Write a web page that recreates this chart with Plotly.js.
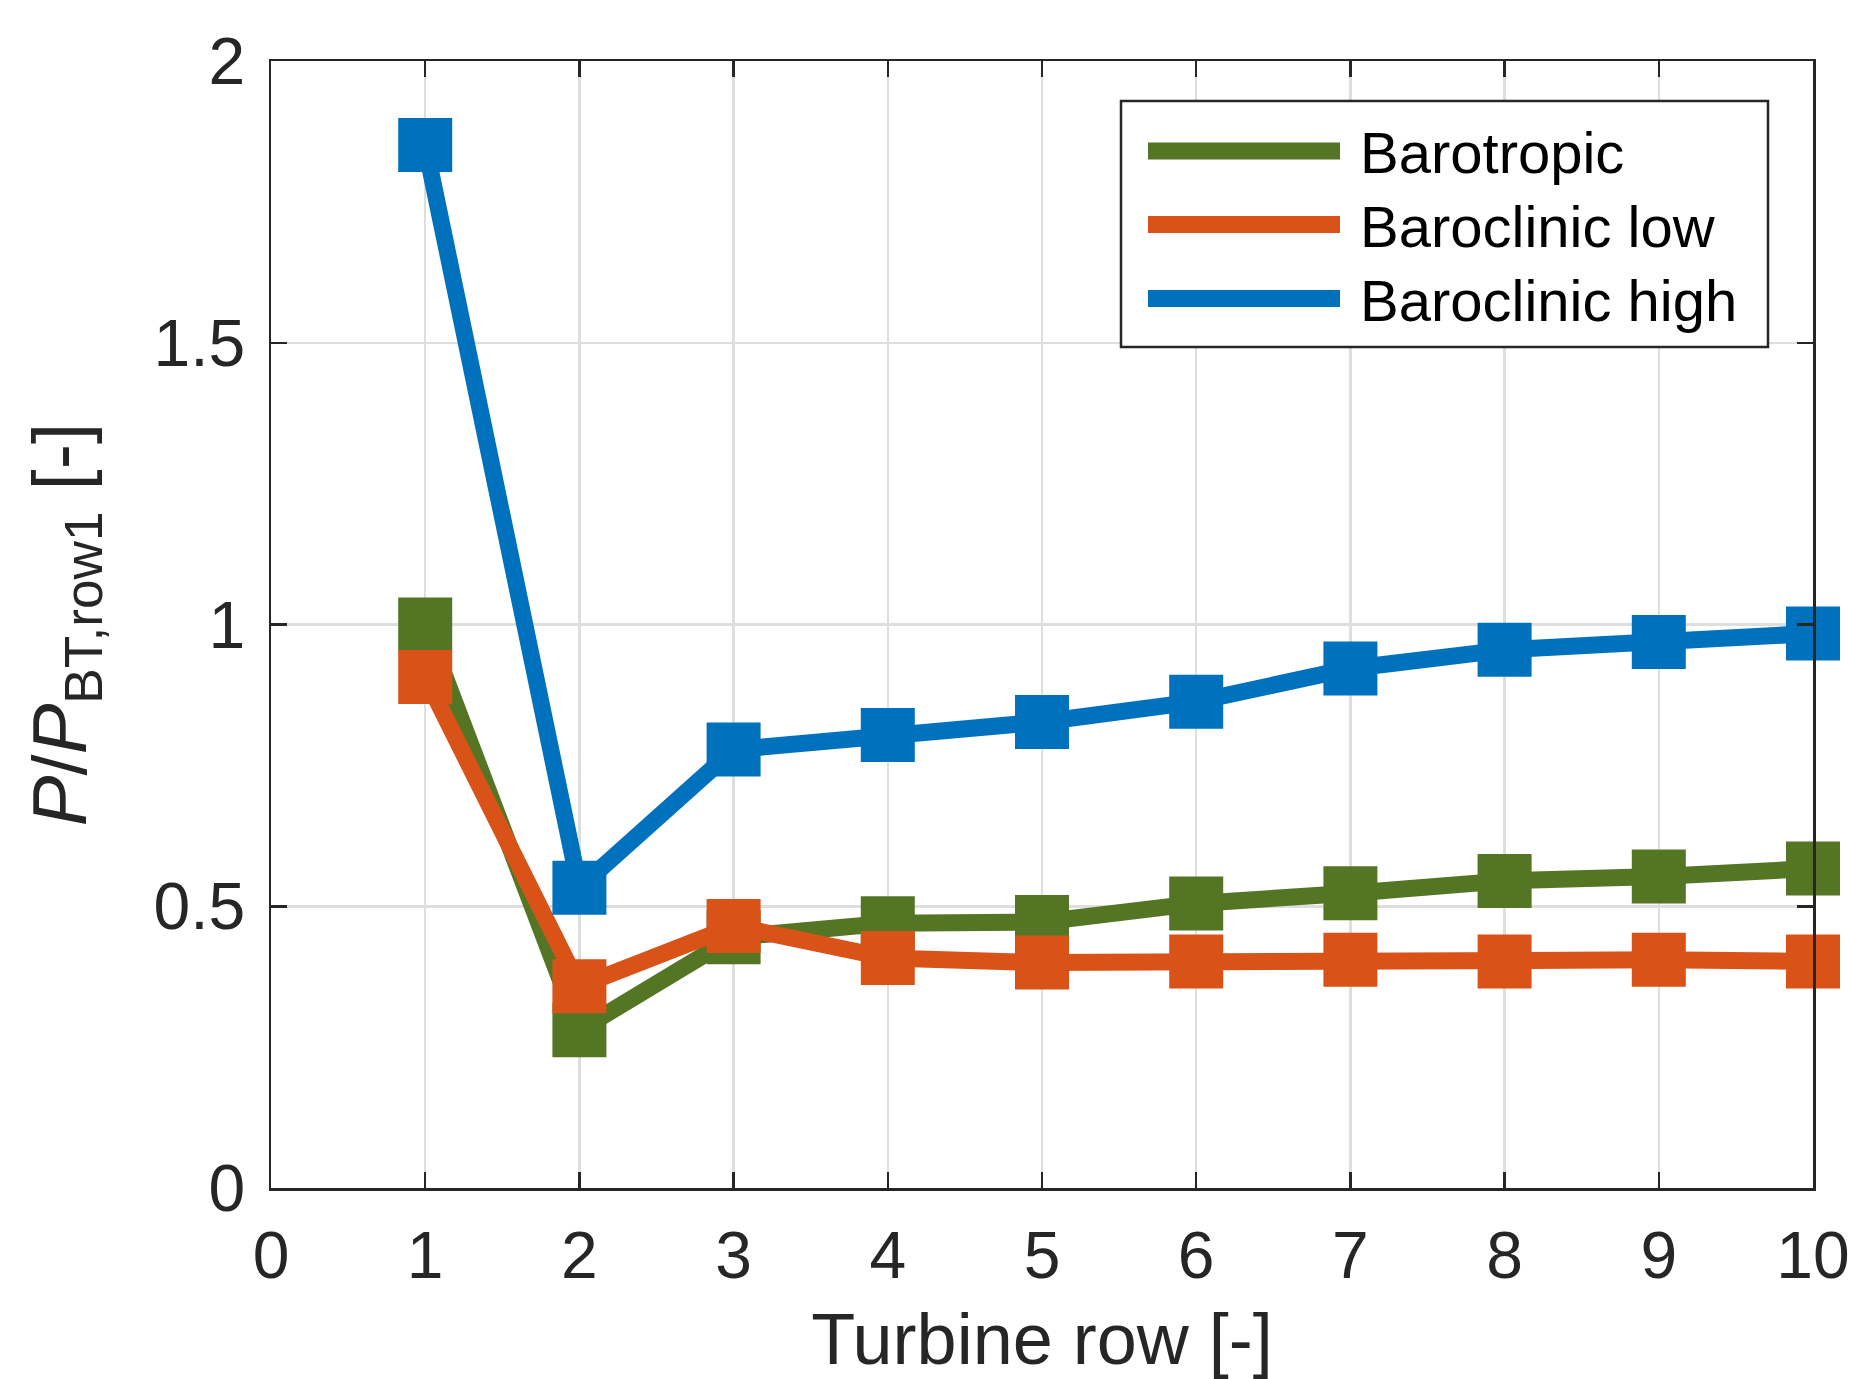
<!DOCTYPE html>
<html>
<head>
<meta charset="utf-8">
<script src="https://cdn.plot.ly/plotly-3.0.1.min.js"></script>
<style>
  html, body { margin: 0; padding: 0; background: #ffffff; }
  #chart { width: 1851px; height: 1379px; }
</style>
</head>
<body>
<div id="chart"></div>
<script>
// ---- Data ----
const turbineRow = [1, 2, 3, 4, 5, 6, 7, 8, 9, 10];
const seriesNames = ["Barotropic", "Baroclinic low", "Baroclinic high"];
const barotropic = [1.00, 0.28, 0.445, 0.47, 0.472, 0.505, 0.523, 0.545, 0.553, 0.567];
const baroclinicLow = [0.907, 0.358, 0.465, 0.408, 0.400, 0.402, 0.405, 0.402, 0.405, 0.402];
const baroclinicHigh = [1.851, 0.533, 0.778, 0.804, 0.827, 0.863, 0.922, 0.955, 0.969, 0.984];
const xTicks = [0, 1, 2, 3, 4, 5, 6, 7, 8, 9, 10];
const yTicks = [0, 0.5, 1, 1.5, 2];
const yTickText = ["0", "0.5", "1", "1.5", "2"];

const colors = ["#547624", "#D95319", "#0072BD"];
const seriesValues = [barotropic, baroclinicLow, baroclinicHigh];

// ---- Layout geometry (pixels) ----
const W = 1851, H = 1379;
const M = { l: 271, r: 38, t: 61, b: 191 };
const PW = W - M.l - M.r, PH = H - M.t - M.b;
const px2x = p => (p - M.l) / PW;
const px2y = p => (H - M.b - p) / PH;

const FONT = "Liberation Sans, Arial, Helvetica, sans-serif";
const INK = "#262626";

const traces = seriesValues.map((vals, i) => ({
  type: "scatter",
  mode: "lines+markers",
  name: seriesNames[i],
  x: turbineRow,
  y: vals,
  cliponaxis: false,
  line: { color: colors[i], width: 17 },
  marker: { symbol: "square", size: 54, color: colors[i], line: { width: 0 } },
  showlegend: false
}));

// custom legend (box, line samples and labels)
const legBox = { x0: 1121, x1: 1768, y0: 101, y1: 347 };
const rowsY = [151, 224.5, 298.5];
const shapes = [{
  type: "rect", xref: "paper", yref: "paper",
  x0: px2x(legBox.x0), x1: px2x(legBox.x1), y0: px2y(legBox.y1), y1: px2y(legBox.y0),
  line: { color: INK, width: 2.5 }, fillcolor: "#ffffff", layer: "above"
}];
const annotations = [];
seriesNames.forEach((n, i) => {
  shapes.push({
    type: "line", xref: "paper", yref: "paper",
    x0: px2x(1148), x1: px2x(1340), y0: px2y(rowsY[i]), y1: px2y(rowsY[i]),
    line: { color: colors[i], width: 17 }, layer: "above"
  });
  annotations.push({
    xref: "paper", yref: "paper", x: px2x(1358), y: px2y(rowsY[i] + 2),
    xanchor: "left", yanchor: "middle", showarrow: false, text: n,
    font: { family: FONT, size: 58, color: "#000000" }
  });
});

const layout = {
  width: W, height: H,
  margin: M,
  paper_bgcolor: "#ffffff",
  plot_bgcolor: "#ffffff",
  showlegend: false,
  font: { family: FONT, color: INK },
  xaxis: {
    range: [0, 10],
    tickvals: xTicks,
    ticktext: xTicks.map(String),
    ticks: "inside", ticklen: 16, tickwidth: 2.5, tickcolor: INK,
    showline: true, linecolor: INK, linewidth: 2.5, mirror: "ticks",
    showgrid: true, gridcolor: "#dedede", gridwidth: 2.5,
    zeroline: false,
    ticklabelstandoff: 8,
    tickfont: { family: FONT, size: 66, color: INK },
    title: { text: "Turbine row [-]", font: { family: FONT, size: 72, color: INK }, standoff: 26 }
  },
  yaxis: {
    range: [0, 2],
    tickvals: yTicks,
    ticktext: yTickText,
    ticks: "inside", ticklen: 16, tickwidth: 2.5, tickcolor: INK,
    showline: true, linecolor: INK, linewidth: 2.5, mirror: "ticks",
    showgrid: true, gridcolor: "#dedede", gridwidth: 2.5,
    zeroline: false,
    ticklabelstandoff: 10,
    tickfont: { family: FONT, size: 66, color: INK },
    title: { text: "<i>P</i>/<i>P</i><sub>BT,row1</sub> [-]", font: { family: FONT, size: 76, color: INK }, standoff: 42 }
  },
  shapes: shapes,
  annotations: annotations
};

Plotly.newPlot("chart", traces, layout, { staticPlot: true, displayModeBar: false });
</script>
</body>
</html>
